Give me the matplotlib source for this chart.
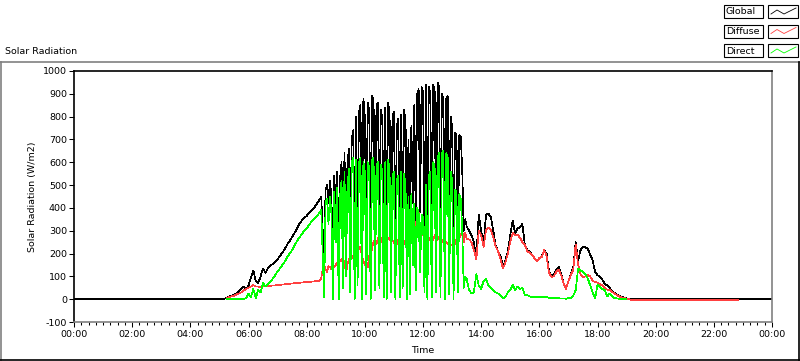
import numpy as np
import matplotlib.pyplot as plt
from matplotlib.lines import Line2D
from matplotlib.patches import Rectangle
from matplotlib.ticker import MultipleLocator, FuncFormatter

nan = np.nan

# time axis pieces (hours of day)
t_early = np.arange(5.0, 8.5 - 1e-9, 5 / 60)    # 05:00 - 08:25, 5 min
t_spike = np.arange(8.5, 13.5 - 1e-9, 3 / 60)   # 08:30 - 13:27, 3 min
t_late = np.arange(13.5, 19.5 + 1e-9, 5 / 60)   # 13:30 - 19:30, 5 min
t_night = [22.83, 22.86, 24.0]

# Global (W/m2)
glob_early = [0, 0, 2, 6, 12, 15, 20, 25, 35, 45, 55, 45, 60, 95, 125, 80, 70, 100, 135, 115,
              135, 145, 155, 165, 175, 190, 205, 220, 240, 255, 272, 290, 310, 330, 345, 355, 365, 378, 390, 400,
              415, 430]
glob_spike = [450, 300, 160, 480, 500, 420, 520, 450, 180, 540,
              380, 560, 200, 530, 600, 220, 640, 300, 580, 660,
              250, 700, 740, 230, 800, 300, 820, 850, 260, 880,
              800, 280, 860, 830, 240, 890, 870, 300, 850, 860,
              300, 830, 790, 260, 840, 250, 860, 820, 280, 800,
              820, 230, 760, 790, 240, 810, 300, 830, 780, 250,
              700, 260, 760, 420, 850, 340, 900, 920, 380, 930,
              910, 300, 940, 250, 930, 900, 260, 940, 920, 300,
              950, 930, 280, 900, 880, 240, 880, 890, 260, 800,
              760, 220, 730, 720, 260, 720, 710, 560, 300, 350]
glob_late = [320, 300, 280, 250, 180, 370, 300, 240, 370, 375,
             360, 300, 235, 210, 190, 140, 170, 210, 280, 345,
             290, 310, 315, 330, 240, 215, 210, 195, 180, 165,
             180, 190, 215, 200, 120, 100, 110, 130, 142, 110,
             70, 47, 80, 110, 140, 250, 170, 215, 230, 228,
             220, 195, 170, 120, 105, 100, 85, 68, 60, 50,
             35, 28, 20, 14, 10, 7, 3, 1, 0, 0,
             0, 0, 0]
glob_night = [0, 0, 0]

# Diffuse (W/m2)
diff_early = [nan, nan, nan, 5, 10, 12, 15, 20, 25, 30, 38, 45, 50, 55, 62, 55, 55, 52, 55, 57,
              57, 58, 60, 60, 62, 63, 64, 65, 66, 67, 69, 70, 71, 72, 73, 74, 75, 76, 77, 78,
              79, 80]
diff_spike = [90, 130, 150, 130, 120, 145, 140, 130, 150, 140,
              150, 160, 170, 165, 175, 160, 170, 110, 150, 175,
              170, 180, 190, 170, 200, 210, 220, 230, 190, 170,
              150, 170, 140, 190, 180, 230, 250, 260, 240, 270,
              260, 250, 270, 260, 240, 250, 270, 260, 280, 260,
              250, 230, 240, 260, 230, 250, 270, 250, 240, 230,
              240, 250, 260, 280, 300, 330, 350, 380, 320, 300,
              280, 270, 260, 250, 260, 270, 250, 260, 280, 270,
              260, 270, 280, 260, 250, 260, 250, 240, 250, 240,
              240, 215, 250, 260, 250, 270, 280, 300, 250, 290]
diff_late = [265, 262, 250, 215, 175, 300, 280, 230, 305, 312,
             305, 270, 230, 210, 175, 135, 160, 200, 250, 290,
             280, 282, 270, 250, 240, 210, 205, 195, 180, 165,
             180, 185, 215, 190, 115, 98, 100, 120, 130, 105,
             68, 45, 78, 105, 130, 240, 150, 110, 95, 100,
             105, 100, 80, 75, 72, 65, 60, 50, 42, 40,
             32, 25, 18, 12, 8, 5, 2, 0, -3, -3,
             -3, -3, -3]
diff_night = [-3, nan, nan]

# Direct (W/m2)
dir_early = [nan, nan, nan, 0, 0, 0, 0, 0, 0, 0, 0, 5, 25, 10, 45, 5, 40, 30, 70, 55,
             65, 75, 90, 105, 122, 135, 150, 165, 185, 200, 215, 235, 255, 270, 285, 300, 310, 325, 340, 350,
             360, 375]
dir_spike = [390, 200, 10, 420, 440, 330, 450, 380, 0, 470,
             250, 490, 0, 450, 520, 50, 560, 100, 480, 570,
             30, 600, 620, 0, 610, 60, 600, 620, 0, 600,
             560, 20, 600, 580, 0, 610, 620, 40, 590, 600,
             50, 590, 560, 10, 600, 0, 610, 570, 30, 540,
             560, 0, 520, 540, 10, 560, 50, 550, 500, 0,
             450, 20, 460, 150, 420, 40, 400, 380, 120, 370,
             360, 30, 500, 0, 540, 560, 10, 600, 580, 30,
             620, 640, 10, 640, 650, 0, 640, 620, 20, 560,
             520, 0, 480, 470, 30, 460, 440, 300, 50, 100]
dir_late = [90, 40, 25, 30, 110, 60, 45, 80, 90, 60,
            50, 40, 30, 25, 15, 3, 10, 30, 40, 62,
            40, 55, 45, 50, 20, 18, 12, 10, 10, 8,
            10, 10, 8, 10, 6, 5, 5, 4, 4, 3,
            3, 2, 5, 5, 15, 40, 135, 125, 120, 110,
            90, 60, 30, 3, 65, 55, 45, 40, 12, 25,
            15, 5, 3, 2, 1, 0, 0, nan, nan, nan,
            nan, nan, nan]
dir_night = [nan, nan, nan]

time = np.concatenate([[0.0], t_early, t_spike, t_late, t_night])
glob = np.concatenate([[0], glob_early, glob_spike, glob_late, glob_night])
diff = np.concatenate([[nan], diff_early, diff_spike, diff_late, diff_night])
direct = np.concatenate([[nan], dir_early, dir_spike, dir_late, dir_night])

W, H = 800, 361
plt.rcParams['font.family'] = 'DejaVu Sans'
plt.rcParams['font.size'] = 6.8
plt.rcParams['axes.unicode_minus'] = False

fig = plt.figure(figsize=(W / 100, H / 100), dpi=100)
ax = fig.add_axes([74 / W, 1 - 322 / H, (772 - 74) / W, (322 - 71) / H])

ax.plot(time, glob, color='black', lw=0.5, antialiased=False)
ax.plot(time, diff, color='#ff4040', lw=0.5, antialiased=False)
ax.plot(time, direct, color='#00ff00', lw=0.5, antialiased=False)

ax.set_xlim(0, 24)
ax.set_ylim(-100, 1000)
ax.yaxis.set_major_locator(MultipleLocator(100))
ax.xaxis.set_major_locator(MultipleLocator(2))
ax.xaxis.set_minor_locator(MultipleLocator(0.25))


def hhmm(v, pos):
    m = int(round(v * 60))
    return f'{(m // 60) % 24:02d}:{m % 60:02d}'


ax.xaxis.set_major_formatter(FuncFormatter(hhmm))
ax.tick_params(axis='y', length=3.6, width=0.75, pad=1.5)
ax.tick_params(axis='x', which='major', length=3.6, width=0.75, pad=2)
ax.tick_params(axis='x', which='minor', length=2.2, width=0.75)

for s in ['top', 'left']:
    ax.spines[s].set_color('black')
for s in ['right', 'bottom']:
    ax.spines[s].set_color('#808080')
for s in ax.spines.values():
    s.set_linewidth(1.2)

ax.set_xlabel('Time', labelpad=5)
ax.set_ylabel('Solar Radiation (W/m2)', labelpad=4)

# panel frame
def px(x, y):
    return x / W, 1 - y / H

fig.add_artist(Line2D(*zip(px(0, 61.5), px(800, 61.5)), color='#808080', lw=1.2))
fig.add_artist(Line2D(*zip(px(1, 61.5), px(1, 360)), color='#808080', lw=1.2))
fig.add_artist(Line2D(*zip(px(0, 360), px(800, 360)), color='black', lw=1.2))
fig.add_artist(Line2D(*zip(px(799, 61.5), px(799, 360)), color='black', lw=1.2))

fig.text(*px(5, 51), 'Solar Radiation', ha='left', va='center')

# legend at the top right
names = ['Global', 'Diffuse', 'Direct']
colors = ['black', '#ff4040', '#00ff00']
for i, (name, c) in enumerate(zip(names, colors)):
    top = 5 + i * 19.5
    x0, y0 = px(724, top + 13)
    fig.add_artist(Rectangle((x0, y0), 39 / W, 13 / H, transform=fig.transFigure,
                             facecolor='white', edgecolor='black', lw=0.8))
    x1, y1 = px(768, top + 13)
    fig.add_artist(Rectangle((x1, y1), 30 / W, 13 / H, transform=fig.transFigure,
                             facecolor='white', edgecolor='black', lw=0.8))
    fig.text(*px(726, top + 7), name, ha='left', va='center')
    zx = [771, 777, 784, 790, 796]
    zy = [top + 9, top + 5, top + 9, top + 6, top + 3]
    pts = [px(a, b) for a, b in zip(zx, zy)]
    fig.add_artist(Line2D([p[0] for p in pts], [p[1] for p in pts], color=c, lw=0.6))

fig.savefig('out.png', dpi=100)
